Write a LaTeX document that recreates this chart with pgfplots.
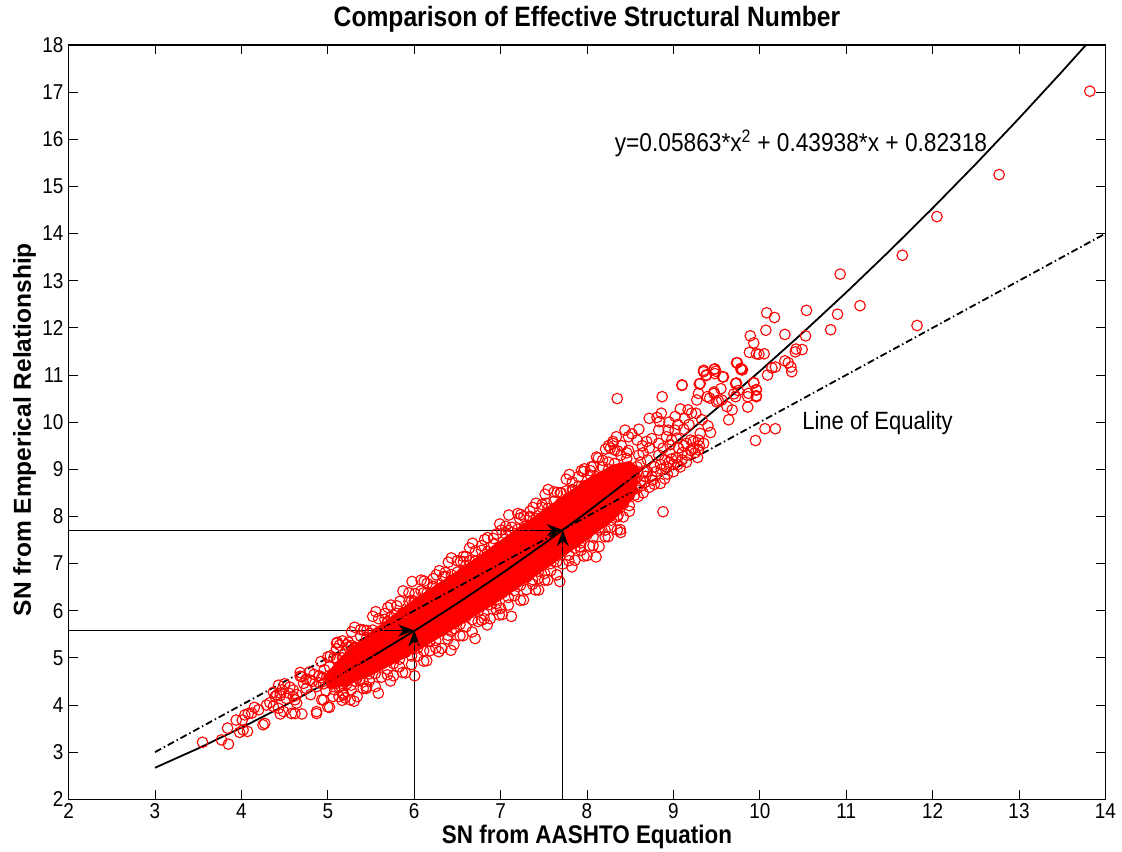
\documentclass[border=0pt]{standalone}
\usepackage{fontspec}
\setmainfont{Liberation Sans}[FakeStretch=0.88]
\newfontfamily\ylabfont{Liberation Sans}
\usepackage{pgfplots}
\pgfplotsset{compat=1.18}
\usetikzlibrary{arrows.meta}
\definecolor{mred}{RGB}{255,0,0}
\begin{document}
\begin{tikzpicture}
\begin{axis}[
  scale only axis, width=1036.8pt, height=754.3pt,
  xmin=2, xmax=14, ymin=2, ymax=18,
  xtick={2,3,...,14}, ytick={2,3,...,18},
  tick align=inside, major tick length=9pt, tick pos=both,
  axis line style={line width=1.1pt},
  every tick/.style={black, line width=0.8pt},
  /pgf/number format/assume math mode=true,
  tick label style={font=\fontsize{21.5}{22}\selectfont},
  xticklabel style={anchor=north, inner sep=0pt, yshift=-4pt},
  yticklabel style={anchor=east, inner sep=0pt, xshift=-5pt},
  title={Comparison of Effective Structural Number},
  title style={at={(0.5,1)}, anchor=base, yshift=12pt, font=\fontsize{28}{28}\selectfont\bfseries},
  xlabel={SN from AASHTO Equation},
  xlabel style={at={(0.5,0)}, anchor=base, yshift=-44pt, font=\fontsize{25.5}{26}\selectfont\bfseries},
  ylabel={SN from Emperical Relationship},
  ylabel style={at={(axis description cs:-0.0363,0.49)}, anchor=base, font=\ylabfont\fontsize{24.5}{25}\selectfont\bfseries},
  scatter/.style={only marks, mark=o, mark size=5.3pt, mark options={mred, line width=1.1pt}},
]
% dense core of thousands of overlapping markers
\addplot[fill=mred, draw=none] coordinates {
(4.95,4.6) (5.2,5.12) (5.5,5.56) (6.0,6.25) (6.5,6.85) (7.0,7.5) (7.5,8.15) (8.0,8.8) (8.3,9.1) (8.5,9.18) (8.62,9.0)
(8.55,8.4) (8.3,7.9) (8.0,7.5) (7.5,6.85) (7.0,6.22) (6.5,5.65) (6.0,5.1) (5.5,4.62) (5.2,4.4) (5.0,4.35)} -- cycle;
% upper edge of the cloud
\addplot[scatter] coordinates {
(5.10,4.99)(5.10,5.19)(5.17,5.00)(5.17,5.36)(5.24,5.23)(5.24,5.33)(5.31,5.23)(5.31,5.65)
(5.38,5.46)(5.38,5.60)(5.45,5.43)(5.45,5.58)(5.52,5.59)(5.52,5.88)(5.59,5.55)(5.59,5.83)
(5.66,5.82)(5.66,5.94)(5.73,5.86)(5.73,6.12)(5.80,5.94)(5.80,6.10)(5.87,5.96)(5.87,6.42)
(5.94,6.20)(5.94,6.38)(6.01,6.19)(6.01,6.36)(6.08,6.42)(6.08,6.65)(6.15,6.38)(6.15,6.58)
(6.22,6.52)(6.22,6.68)(6.29,6.47)(6.29,6.85)(6.36,6.73)(6.36,6.81)(6.43,6.76)(6.43,7.12)
(6.50,6.82)(6.50,7.06)(6.57,6.83)(6.57,7.04)(6.64,7.06)(6.64,7.33)(6.71,7.05)(6.71,7.27)
(6.78,7.28)(6.78,7.38)(6.85,7.25)(6.85,7.55)(6.92,7.41)(6.92,7.53)(6.99,7.36)(6.99,7.84)
(7.06,7.63)(7.06,7.79)(7.13,7.66)(7.13,7.77)(7.20,7.73)(7.20,8.06)(7.27,7.74)(7.27,8.00)
(7.34,7.97)(7.34,8.11)(7.41,7.96)(7.41,8.28)(7.48,8.19)(7.48,8.25)(7.55,8.17)(7.55,8.57)
(7.62,8.32)(7.62,8.52)(7.69,8.27)(7.69,8.50)(7.76,8.54)(7.76,8.79)(7.83,8.57)(7.83,8.73)
(7.90,8.64)(7.90,8.84)(7.97,8.65)(7.97,9.01)(8.04,8.87)(8.04,8.97)(8.11,8.84)(8.11,9.26)
(8.18,9.05)(8.18,9.19)(8.25,9.00)(8.25,9.15)(8.32,9.12)(8.32,9.41)(8.39,9.02)(8.39,9.30)
(8.46,9.23)(8.46,9.35)
(5.135,5.27)(5.275,5.55)(5.415,5.59)(5.555,5.98)(5.695,6.07)(5.835,6.20)(5.975,6.62)(6.115,6.63)
(6.255,6.76)(6.395,7.03)(6.535,7.05)(6.675,7.43)(6.815,7.51)(6.955,7.63)(7.095,8.03)(7.235,8.04)
(7.375,8.19)(7.515,8.47)(7.655,8.51)(7.795,8.89)(7.935,8.97)(8.075,9.07)(8.215,9.43)(8.355,9.39)
(7.96,8.95)(8.05,9.05)(8.13,9.24)(8.25,9.50)(8.30,9.59)(7.53,8.28)(7.70,8.50)(7.84,8.56)
(7.22,7.96)(7.34,8.00)(7.01,7.71)(7.09,7.70)(6.57,7.15)(6.60,7.15)(6.34,6.72)(6.22,6.51)
(6.11,6.38)(6.00,6.20)(5.97,6.22)(5.69,5.77)(5.49,5.52)(5.57,5.48)};
% lower edge of the cloud
\addplot[scatter] coordinates {
(5.13,4.38)(5.13,4.18)(5.20,4.51)(5.20,4.15)(5.27,4.42)(5.27,4.32)(5.34,4.58)(5.34,4.18)
(5.41,4.49)(5.41,4.35)(5.48,4.66)(5.48,4.51)(5.55,4.67)(5.55,4.39)(5.62,4.87)(5.62,4.59)
(5.69,4.76)(5.69,4.64)(5.76,4.88)(5.76,4.62)(5.83,4.97)(5.83,4.81)(5.90,5.12)(5.90,4.68)
(5.97,5.04)(5.97,4.86)(6.04,5.21)(6.04,5.04)(6.11,5.15)(6.11,4.93)(6.18,5.35)(6.18,5.15)
(6.25,5.37)(6.25,5.21)(6.32,5.58)(6.32,5.20)(6.39,5.48)(6.39,5.40)(6.46,5.62)(6.46,5.28)
(6.53,5.71)(6.53,5.47)(6.60,5.87)(6.60,5.66)(6.67,5.81)(6.67,5.55)(6.74,5.99)(6.74,5.77)
(6.81,5.93)(6.81,5.83)(6.88,6.13)(6.88,5.83)(6.95,6.15)(6.95,6.03)(7.02,6.38)(7.02,5.92)
(7.09,6.28)(7.09,6.12)(7.16,6.43)(7.16,6.32)(7.23,6.54)(7.23,6.22)(7.30,6.71)(7.30,6.45)
(7.37,6.66)(7.37,6.56)(7.44,6.84)(7.44,6.44)(7.51,6.79)(7.51,6.65)(7.58,7.00)(7.58,6.85)
(7.65,7.04)(7.65,6.76)(7.72,7.27)(7.72,6.99)(7.79,7.18)(7.79,7.06)(7.86,7.33)(7.86,7.07)
(7.93,7.44)(7.93,7.28)(8.00,7.61)(8.00,7.17)(8.07,7.56)(8.07,7.38)(8.14,7.76)(8.14,7.36)
(8.21,7.71)(8.21,7.57)(8.28,7.92)(8.28,7.77)(8.35,7.99)(8.35,7.71)(8.42,8.27)(8.42,7.99)
(8.49,8.23)(8.49,8.11)
(5.165,4.10)(5.305,4.08)(5.445,4.35)(5.585,4.25)(5.725,4.51)(5.865,4.69)(6.005,4.62)(6.145,4.94)
(6.285,5.13)(6.425,5.16)(6.565,5.47)(6.705,5.41)(6.845,5.70)(6.985,5.91)(7.125,5.88)(7.265,6.23)
(7.405,6.44)(7.545,6.65)(7.685,6.62)(7.825,6.93)(7.965,7.16)(8.105,7.14)(8.245,7.57)(8.385,7.72)
(6.43,5.56)(6.78,5.80)(7.00,6.05)(7.44,6.69)(8.03,7.37)(7.92,7.36)(8.15,7.71)(8.39,7.66)
(8.36,8.03)(8.59,8.42)(8.88,8.10)(8.67,8.72)(8.76,8.77)(8.85,8.70)};
% lower tail of the cloud
\addplot[scatter] coordinates {
(3.55,3.21)(3.77,3.26)(3.85,3.17)(3.84,3.51)(3.98,3.42)(4.02,3.47)(4.07,3.44)(4.01,3.68)
(4.04,3.79)(4.08,3.82)(3.94,3.68)(4.25,3.58)(4.27,3.61)(4.29,4.00)(4.39,4.18)(4.41,4.21)
(4.45,4.25)(4.47,4.32)(4.43,4.42)(4.37,3.97)(4.43,3.93)(4.49,3.86)(4.60,4.32)(4.62,4.11)
(4.64,4.04)(4.58,3.82)(4.70,4.60)(4.87,3.86)(4.95,4.11)(5.02,3.95)(5.10,5.31)(5.22,5.28)
(4.72,4.46)(4.79,4.53)(4.87,4.39)(4.99,4.60)(5.02,4.81)(5.10,4.46)(5.18,4.67)(5.26,4.95)
(5.33,4.81)(5.41,5.10)(5.49,4.95)(5.37,4.53)(5.45,4.39)(5.18,4.25)(5.26,4.11)(5.06,4.18)
(4.93,4.11)(4.68,4.61)(4.75,4.55)(4.82,4.50)(4.90,4.47)(4.93,4.58)(4.37,4.27)(4.45,4.20)
(4.52,4.14)(4.60,4.18)(4.55,4.25)(4.64,4.22)(4.12,3.83)(4.45,3.81)(4.62,3.82)(4.70,3.81)
(4.87,3.82)(5.00,3.96)(5.18,4.21)(5.11,5.33)(5.28,5.26)(5.33,5.21)(5.03,5.04)(5.07,5.00)
(5.11,4.96)(4.68,4.69)(4.79,4.70)(4.20,3.90)(4.15,3.95)(4.33,4.05)(4.50,4.45)(4.56,4.38)
(4.75,4.35)(4.80,4.22)(4.84,4.65)(4.96,4.75)(5.05,4.65)(5.14,4.80)(4.98,4.30)(5.08,4.32)
(4.92,4.92)(5.00,5.02)(5.15,4.55)(5.20,4.62)(5.12,4.62)(5.05,4.45)(5.15,4.40)(4.95,4.45)
(4.90,4.62)(5.03,4.55)(5.24,4.75)(5.28,4.60)(5.30,4.90)(5.22,4.45)(5.32,4.50)};
% upper tail of the cloud
\addplot[scatter] coordinates {
(8.44,9.83)(8.34,9.69)(8.48,9.69)(8.30,9.55)(8.27,9.45)(8.58,9.62)(8.69,9.59)(8.83,9.55)
(8.96,9.52)(9.02,9.83)(8.94,9.83)(8.92,9.69)(9.04,9.66)(9.15,9.55)(9.23,9.59)(9.31,9.76)
(9.29,9.62)(9.43,9.78)(9.23,9.45)(9.29,9.41)(9.08,10.28)(9.17,10.26)(9.21,10.19)(9.26,10.19)
(9.02,10.12)(9.13,10.08)(8.72,10.08)(8.81,10.10)(8.86,10.19)(8.84,10.01)(8.83,9.83)
(9.29,10.61)(9.27,10.47)(9.39,10.54)(9.47,10.61)(9.50,10.43)(9.56,10.47)(9.62,10.33)
(9.68,10.26)(9.64,10.05)(9.31,10.82)(9.72,10.82)(9.93,10.84)(9.96,10.68)(9.87,10.61)
(9.96,10.56)(9.35,11.07)(9.38,11.00)(9.47,11.12)(9.48,11.03)(9.58,10.96)(9.73,11.26)
(9.79,11.11)(9.78,11.14)(9.10,10.79)
(8.52,8.55)(8.55,8.80)(8.58,9.05)(8.60,9.30)(8.63,8.65)(8.66,8.95)(8.70,9.20)(8.72,9.45)
(8.75,8.85)(8.78,9.05)(8.80,8.95)(8.83,9.30)(8.86,9.00)(8.90,9.20)(8.93,8.90)(8.96,9.35)
(9.00,9.10)(9.03,9.25)(9.06,9.45)(9.10,9.20)(9.12,9.50)(9.16,9.30)(9.20,9.62)(9.25,9.35)
(8.55,8.45)(8.65,8.50)(8.72,8.62)(8.50,8.70)(8.45,9.00)(8.48,9.40)(8.40,9.50)(8.62,9.15)
(8.68,8.85)(8.98,9.62)(9.35,9.55)(9.40,9.92)(9.12,9.85)(9.05,9.95)(8.95,10.00)(8.60,9.85)
(8.52,9.75)(8.90,8.80)(9.00,8.95)(9.08,9.05)(8.75,9.65)(8.64,9.50)(9.18,9.95)(9.33,10.05)
(8.62,8.75)(8.70,8.95)(8.78,8.68)(8.85,9.10)(8.92,9.05)(8.98,9.22)(9.05,9.10)(9.10,9.35)
(9.15,9.15)(9.20,9.40)(9.28,9.25)(9.30,9.50)(8.58,8.60)(8.65,9.35)(8.88,9.45)(8.95,9.15)};
% sparse points at large SN
\addplot[scatter] coordinates {
(13.82,17.02)(12.77,15.25)(12.05,14.36)(11.65,13.54)(10.93,13.14)(11.16,12.47)(10.90,12.29)
(11.82,12.05)(10.82,11.96)(10.08,12.32)(10.17,12.22)(10.54,12.37)(10.07,11.95)(10.29,11.86)
(10.53,11.83)(9.89,11.83)(9.93,11.68)(9.88,11.48)(9.96,11.45)(9.99,11.44)(10.05,11.45)
(10.42,11.55)(10.49,11.54)(10.41,11.49)(10.29,11.30)(10.33,11.26)(10.36,11.17)(10.37,11.07)
(10.18,11.17)(10.14,11.15)(10.09,11.00)(9.74,11.26)(9.78,11.13)(9.80,11.11)(9.57,10.96)
(9.48,11.13)(9.49,11.08)(9.35,11.10)(9.38,10.99)(9.30,10.81)(9.10,10.78)(8.87,10.54)
(8.35,10.50)(9.73,10.83)(9.75,10.67)(9.70,10.60)(9.72,10.54)(9.86,10.54)(9.96,10.69)
(9.93,10.83)(9.86,10.32)(9.96,10.54)(9.55,10.71)(9.52,10.46)(9.42,10.51)(9.47,10.64)
(10.06,9.86)(10.18,9.86)(9.95,9.61)};
% line of equality
\addplot[black, line width=1.8pt, dash pattern=on 7pt off 3pt on 1.5pt off 3pt] coordinates {(3,3) (14,14)};
% quadratic fit
\addplot[black, line width=1.8pt] coordinates {
(3,2.669)(3.5,3.079)(4,3.519)(4.5,3.988)(5,4.486)(5.5,5.013)(6,5.570)(6.5,6.156)(7,6.772)
(7.5,7.417)(8,8.091)(8.5,8.794)(9,9.527)(9.5,10.289)(10,11.080)(10.5,11.901)(11,12.751)
(11.5,13.630)(12,14.539)(12.5,15.476)(13,16.444)(13.5,17.440)(13.775,18.0)};
% read-off arrows
\addplot[black, line width=0.8pt, -{Stealth[length=16pt,width=12pt,inset=5pt]}] coordinates {(2,5.58) (6,5.58)};
\addplot[black, line width=0.8pt, -{Stealth[length=16pt,width=12pt,inset=5pt]}] coordinates {(6,2) (6,5.58)};
\addplot[black, line width=0.8pt, -{Stealth[length=16pt,width=12pt,inset=5pt]}] coordinates {(2,7.71) (7.72,7.71)};
\addplot[black, line width=0.8pt, -{Stealth[length=16pt,width=12pt,inset=5pt]}] coordinates {(7.72,2) (7.72,7.71)};
\node[anchor=west, inner sep=0pt, font=\fontsize{25.8}{26}\selectfont] at (axis cs:8.32,15.92) {y=0.05863*x\textsuperscript{2} + 0.43938*x + 0.82318};
\node[anchor=west, inner sep=0pt, font=\fontsize{25}{25}\selectfont] at (axis cs:10.49,9.98) {Line of Equality};
\end{axis}
\path ([shift={(-68.6pt,-50.7pt)}]current axis.south west) rectangle ([shift={(16.6pt,45pt)}]current axis.north east);
\end{tikzpicture}
\end{document}
